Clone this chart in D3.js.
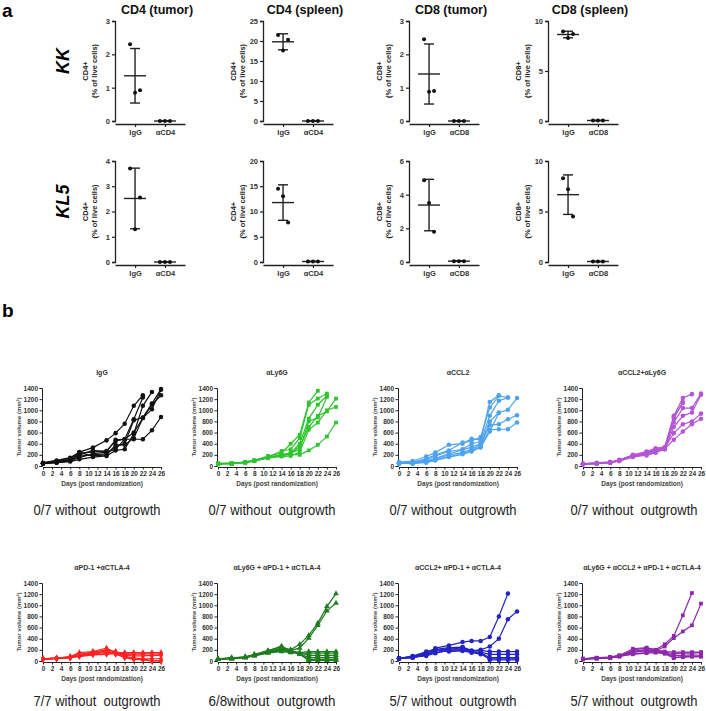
<!DOCTYPE html>
<html>
<head>
<meta charset="utf-8">
<script src="https://cdn.jsdelivr.net/npm/d3@7"></script>
<style>
  body { margin: 0; background: #fff; }
  svg { display: block; font-family: "Liberation Sans", Arial, sans-serif; }
</style>
</head>
<body>
<div id="fig"></div>
<script>
// ---------- panel a data ----------
const aTitles = ['CD4 (tumor)', 'CD4 (spleen)', 'CD8 (tumor)', 'CD8 (spleen)'];
const aRows = ['KK', 'KL5'];
const aYLabels = ['CD4+', 'CD4+', 'CD8+', 'CD8+'];
const aCats = [['IgG', 'αCD4'], ['IgG', 'αCD4'], ['IgG', 'αCD8'], ['IgG', 'αCD8']];
const aMax = [[3, 25, 3, 10], [4, 20, 6, 10]];
const aStep = [[1, 5, 1, 5], [1, 5, 2, 5]];
const kkIgG = [[2.3, 0.85, 0.92], [21.5, 17.6, 20.3], [2.45, 0.88, 0.9], [8.95, 8.3, 8.7]];
const kkDepl = [[0, 0, 0], [0, 0, 0], [0, 0, 0], [0.05, 0.05, 0.05]];
const kl5IgG = [[3.7, 1.3, 2.55], [14.5, 13, 7.8], [4.85, 3.5, 1.8], [8.3, 7.2, 4.5]];
const kl5Depl = [[0, 0, 0], [0.1, 0.1, 0.1], [0.05, 0.05, 0.05], [0.05, 0.05, 0.05]];

// ---------- panel b data ----------
const days = [0, 3, 6, 8, 11, 14, 16, 18, 20, 22, 24, 26];
const bTitles = ['IgG', 'αLy6G', 'αCCL2', 'αCCL2+αLy6G',
  'αPD-1 +αCTLA-4', 'αLy6G + αPD-1 + αCTLA-4', 'αCCL2+ αPD-1 + αCTLA-4', 'αLy6G + αCCL2 + αPD-1 + αCTLA-4'];
const bNotes = ['0/7 without  outgrowth', '0/7 without  outgrowth', '0/7 without  outgrowth', '0/7 without  outgrowth',
  '7/7 without  outgrowth', '6/8without  outgrowth', '5/7 without  outgrowth', '5/7 without  outgrowth'];
const bColors = ['#111111', '#2ec42e', '#4ea3ee', '#b455d6', '#ff2222', '#1e7d1e', '#2323c4', '#8d27ab'];

const igg = [
  [50, 90, 140, 250, 330, 460, 590, 760, 1080, 1270],
  [50, 80, 120, 200, 280, 260, 470, 480, 840, 1230],
  [40, 60, 80, 120, 160, 180, 280, 300, 580, 1080, 1330],
  [40, 70, 100, 150, 220, 250, 300, 480, 480, 480, 640, 880],
  [50, 60, 90, 180, 200, 220, 350, 400, 820, 870, 1120, 1380],
  [50, 70, 110, 230, 250, 270, 450, 480, 600, 860, 1020, 1370],
  [60, 100, 150, 240, 180, 200, 380, 380, 500, 860, 1100, 1270]
];
const ly6g = [
  [40, 50, 70, 100, 180, 230, 400, 560, 1140, 1350],
  [30, 40, 60, 90, 160, 270, 300, 500, 1100, 1210, 1300],
  [50, 40, 70, 100, 150, 200, 230, 400, 850, 1100, 1260],
  [40, 40, 70, 100, 150, 180, 220, 350, 700, 900, 980, 1210],
  [40, 50, 60, 90, 140, 170, 180, 250, 650, 780, 1000, 1060],
  [50, 40, 60, 90, 150, 190, 210, 200, 280, 380, 530, 780],
  [40, 50, 70, 100, 160, 200, 230, 300, 800, 870, 1240]
];
const ccl2 = [
  [70, 90, 170, 240, 380, 400, 490, 470, 1150, 1270],
  [50, 70, 130, 200, 280, 420, 450, 520, 1050, 1260, 1230],
  [40, 60, 110, 180, 260, 300, 400, 440, 900, 1170, 1230],
  [50, 50, 90, 140, 220, 290, 340, 400, 800, 960, 1010, 1220],
  [60, 40, 80, 130, 200, 240, 300, 380, 730, 750, 840, 910],
  [50, 60, 70, 110, 170, 220, 280, 350, 650, 660, 660, 780],
  [40, 50, 60, 100, 160, 210, 260, 330, 620, 950]
];
const ccl2ly6g = [
  [40, 50, 60, 100, 190, 250, 300, 330, 900, 1220, 1290],
  [30, 40, 60, 90, 170, 230, 280, 300, 850, 1150],
  [40, 50, 70, 100, 180, 220, 260, 310, 780, 1040, 1040, 1300],
  [30, 40, 60, 90, 160, 200, 250, 300, 700, 900, 960, 1280],
  [40, 50, 70, 110, 190, 240, 290, 320, 590, 750, 800, 940],
  [30, 40, 60, 100, 180, 190, 240, 310, 470, 620, 750, 850],
  [40, 60, 70, 100, 200, 260, 320, 340, 880, 1130]
];
const pd1 = [
  [40, 50, 80, 150, 170, 230, 150, 150, 150, 150, 150, 150],
  [40, 50, 70, 120, 160, 200, 170, 130, 130, 130, 130, 130],
  [30, 40, 60, 110, 150, 170, 150, 120, 110, 110, 100, 110],
  [40, 50, 70, 100, 130, 150, 140, 100, 90, 90, 100, 100],
  [30, 40, 60, 90, 120, 130, 130, 90, 50, 40, 40, 40],
  [40, 50, 60, 80, 110, 120, 140, 60, 30, 20, 0, 0],
  [30, 50, 60, 100, 140, 180, 120, 70, 40, 30, 10, 0]
];
const ly6gPd1 = [
  [30, 50, 70, 110, 170, 230, 200, 300, 460, 680, 980, 1210],
  [30, 50, 60, 100, 160, 200, 190, 230, 410, 640, 900, 1040],
  [40, 50, 70, 120, 180, 270, 170, 150, 170, 170, 170, 170],
  [30, 50, 60, 100, 150, 180, 160, 140, 140, 140, 140, 140],
  [40, 40, 70, 110, 160, 200, 180, 150, 100, 100, 100, 100],
  [30, 40, 60, 90, 140, 170, 150, 130, 60, 60, 60, 60],
  [30, 50, 70, 100, 170, 220, 190, 120, 30, 30, 30, 30],
  [40, 60, 70, 110, 190, 250, 200, 120, 10, 10, 10, 10]
];
const ccl2Pd1 = [
  [50, 80, 140, 230, 280, 340, 360, 360, 430, 800, 1210],
  [50, 60, 110, 180, 230, 240, 180, 200, 260, 400, 750, 890],
  [40, 90, 170, 210, 240, 250, 190, 190, 170, 170, 170, 170],
  [50, 70, 130, 190, 210, 240, 160, 160, 120, 120, 120, 120],
  [40, 60, 110, 150, 190, 210, 170, 150, 60, 60, 60, 60],
  [50, 80, 150, 200, 170, 180, 150, 150, 20, 20, 20, 20],
  [40, 70, 90, 140, 190, 200, 160, 120, 40, 40, 40, 40]
];
const quad = [
  [40, 50, 60, 90, 200, 230, 200, 300, 450, 820, 1220],
  [40, 50, 60, 90, 150, 210, 180, 260, 410, 530, 640, 1030],
  [40, 60, 70, 100, 220, 240, 200, 170, 160, 160, 160, 160],
  [30, 50, 60, 80, 180, 200, 190, 160, 130, 140, 140, 150],
  [40, 50, 60, 80, 130, 150, 170, 140, 100, 100, 110, 100],
  [30, 40, 60, 90, 120, 140, 150, 130, 50, 80, 80, 80],
  [40, 50, 70, 100, 160, 180, 160, 150, 70, 70, 80, 80]
];
const bSeries = [igg, ly6g, ccl2, ccl2ly6g, pd1, ly6gPd1, ccl2Pd1, quad];
const bSymbols = [d3.symbolCircle, d3.symbolSquare, d3.symbolCircle, d3.symbolCircle,
  d3.symbolDiamond, d3.symbolTriangle, d3.symbolCircle, d3.symbolSquare];
const yTicksB = d3.range(0, 1401, 200);
const xTicksB = d3.range(0, 27, 2);

const W = 706, H = 711;
const svg = d3.select('#fig').append('svg').attr('width', W).attr('height', H);
svg.append('rect').attr('width', W).attr('height', H).attr('fill', '#fff');

svg.append('text').attr('x', 2).attr('y', 17).attr('font-size', 19).attr('font-weight', 'bold').text('a');
svg.append('text').attr('x', 2).attr('y', 317).attr('font-size', 19).attr('font-weight', 'bold').text('b');

// ---------- panel a ----------
const aX = [115, 263, 409, 548];
const aRowY = [[21, 121], [161, 262]];
const aW = 70;
const aIgG = [kkIgG, kl5IgG];
const aDepl = [kkDepl, kl5Depl];
const jitter = [-5, 0, 5];
const fmt = d3.format('d');

aRows.forEach((rowName, r) => {
  const [top, bot] = aRowY[r];
  svg.append('text')
    .attr('transform', `translate(69,${(top + bot) / 2 - 10}) rotate(-90)`)
    .attr('text-anchor', 'middle').attr('font-size', 18)
    .attr('font-weight', 'bold').attr('font-style', 'italic')
    .text(rowName);

  aTitles.forEach((title, c) => {
    const g = svg.append('g').attr('transform', `translate(${aX[c]},0)`);
    const y = d3.scaleLinear().domain([0, aMax[r][c]]).range([bot, top]);
    const x = d3.scalePoint().domain(aCats[c]).range([0, aW]).padding(0.67);

    if (r === 0) {
      g.append('text').attr('x', 42).attr('y', 14).attr('text-anchor', 'middle')
        .attr('font-size', 12.5).attr('font-weight', 'bold').attr('fill', '#111').text(title);
    }

    const yAxis = g.append('g')
      .call(d3.axisLeft(y).tickValues(d3.range(0, aMax[r][c] + 0.001, aStep[r][c]))
        .tickFormat(fmt).tickSize(3).tickPadding(2));
    yAxis.select('.domain').attr('stroke', '#222').attr('stroke-width', 1.3);
    yAxis.selectAll('.tick line').attr('stroke', '#222').attr('stroke-width', 1.2);
    yAxis.selectAll('text').attr('font-size', 7.5).attr('font-weight', 'bold').attr('fill', '#333')
      .attr('font-family', '"Liberation Sans", Arial, sans-serif');

    const xAxis = g.append('g').attr('transform', `translate(0,${bot + 3})`)
      .call(d3.axisBottom(x).tickSize(3).tickSizeOuter(0).tickPadding(3));
    xAxis.select('.domain').attr('stroke', '#222').attr('stroke-width', 1.3);
    xAxis.selectAll('.tick line').attr('stroke', '#222').attr('stroke-width', 1.2);
    xAxis.selectAll('text').attr('font-size', 7.5).attr('font-weight', 'bold').attr('fill', '#333')
      .attr('font-family', '"Liberation Sans", Arial, sans-serif');

    const lbl = g.append('text')
      .attr('transform', `translate(-23,${(top + bot) / 2}) rotate(-90)`)
      .attr('text-anchor', 'middle').attr('font-size', 7.5).attr('font-weight', 'bold').attr('fill', '#222');
    lbl.append('tspan').attr('x', 0).attr('dy', -4).text(aYLabels[c]);
    lbl.append('tspan').attr('x', 0).attr('dy', 9).text('(% of live cells)');

    [aIgG[r][c], aDepl[r][c]].forEach((vals, k) => {
      const cx = x(aCats[c][k]);
      const m = d3.mean(vals), sd = d3.deviation(vals);
      const grp = g.append('g').attr('stroke', '#222').attr('stroke-width', 1.4);
      grp.append('line').attr('x1', cx - 11).attr('x2', cx + 11).attr('y1', y(m)).attr('y2', y(m));
      grp.append('line').attr('x1', cx).attr('x2', cx).attr('y1', y(m - sd)).attr('y2', y(m + sd));
      grp.append('line').attr('x1', cx - 5).attr('x2', cx + 5).attr('y1', y(m - sd)).attr('y2', y(m - sd));
      grp.append('line').attr('x1', cx - 5).attr('x2', cx + 5).attr('y1', y(m + sd)).attr('y2', y(m + sd));
      g.selectAll(null).data(vals).join('circle')
        .attr('cx', (d, i) => cx + jitter[i]).attr('cy', d => y(d)).attr('r', 2).attr('fill', '#111');
    });
  });
});

// ---------- panel b ----------
const bX = [43, 218, 399, 583];
const bTop = [388, 583];
const bNoteY = [515, 706];
const bNoteX = [97, 272, 453, 634];
const bW = 118, bH = 78;

bSeries.forEach((series, idx) => {
  const r = Math.floor(idx / 4), c = idx % 4;
  const g = svg.append('g').attr('transform', `translate(${bX[c]},${bTop[r]})`);
  const x = d3.scaleLinear().domain([0, 26]).range([0, bW]);
  const y = d3.scaleLinear().domain([0, 1400]).range([bH, 0]);
  const col = bColors[idx];

  g.append('text').attr('x', bW / 2).attr('y', -13).attr('text-anchor', 'middle')
    .attr('font-size', 7).attr('font-weight', 'bold').attr('fill', '#333').text(bTitles[idx]);

  const yAxis = g.append('g').attr('transform', 'translate(-1,0)')
    .call(d3.axisLeft(y).tickValues(yTicksB).tickFormat(fmt).tickSize(2.5).tickPadding(1.5));
  const xAxis = g.append('g').attr('transform', `translate(0,${bH + 1})`)
    .call(d3.axisBottom(x).tickValues(xTicksB).tickFormat(fmt).tickSize(2.5).tickPadding(1.5).tickSizeOuter(0));
  [yAxis, xAxis].forEach(ax => {
    ax.select('.domain').attr('stroke', '#222').attr('stroke-width', 1);
    ax.selectAll('.tick line').attr('stroke', '#222');
    ax.selectAll('text').attr('font-size', 6.5).attr('font-weight', 'bold').attr('fill', '#333')
      .attr('font-family', '"Liberation Sans", Arial, sans-serif');
  });

  g.append('text').attr('transform', `translate(-22,${bH / 2}) rotate(-90)`)
    .attr('text-anchor', 'middle').attr('font-size', 6).attr('font-weight', 'bold').attr('fill', '#444')
    .text('Tumor volume (mm³)');
  g.append('text').attr('x', bW / 2).attr('y', bH + 20).attr('text-anchor', 'middle')
    .attr('font-size', 6.5).attr('font-weight', 'bold').attr('fill', '#444').text('Days (post randomization)');

  const line = d3.line().x((d, i) => x(days[i])).y(d => y(d));
  g.append('g').selectAll('path').data(series).join('path')
    .attr('d', line).attr('fill', 'none').attr('stroke', col).attr('stroke-width', 1.2);
  const sym = d3.symbol().type(bSymbols[idx]).size(bSymbols[idx] === d3.symbolCircle ? 16 : 14);
  series.forEach(s => {
    g.append('g').selectAll('path').data(s).join('path')
      .attr('transform', (d, i) => `translate(${x(days[i])},${y(d)})`)
      .attr('d', sym).attr('fill', col);
  });

  svg.append('text').attr('x', bNoteX[c]).attr('y', bNoteY[r])
    .attr('text-anchor', 'middle').attr('font-size', 14).attr('fill', '#222')
    .attr('textLength', 127).attr('lengthAdjust', 'spacingAndGlyphs')
    .style('white-space', 'pre').text(bNotes[idx]);
});
</script>
</body>
</html>
